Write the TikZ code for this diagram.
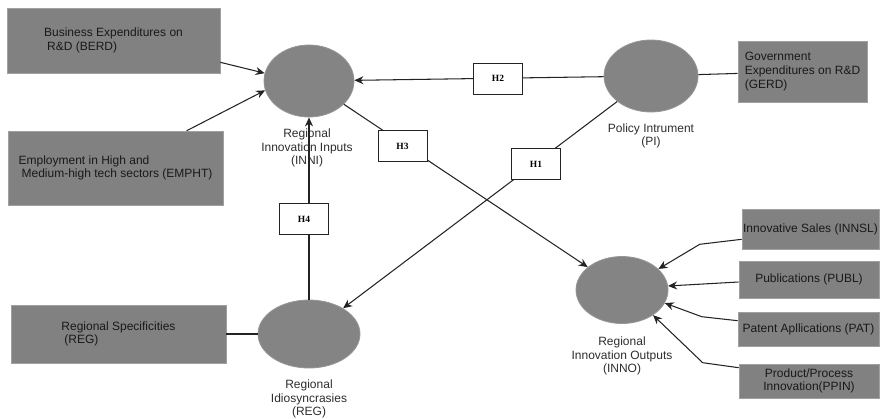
\documentclass[tikz,border=0pt]{standalone}
\usepackage{fontspec}
\setmainfont{Liberation Sans}
\newfontfamily\hfont{Liberation Serif}
\usetikzlibrary{shapes.geometric,arrows.meta,calc}
\definecolor{boxgray}{RGB}{129,129,129}
\definecolor{boxedge}{RGB}{160,160,160}
\definecolor{ellgray}{RGB}{132,132,132}
\definecolor{linecol}{RGB}{35,35,35}
\definecolor{txtcol}{RGB}{25,25,25}
\definecolor{labcol}{RGB}{45,45,45}
\tikzset{
  ind/.style={rectangle, fill=boxgray, draw=boxedge, line width=0.6pt, inner sep=0pt, align=left,
    text=txtcol, font=\fontsize{12}{13.6}\selectfont},
  indc/.style={ind, align=center},
  lat/.style={ellipse, fill=ellgray, draw=ellgray!85, line width=0.8pt, inner sep=0pt},
  lab/.style={align=center, text=labcol, font=\fontsize{12}{13.6}\selectfont, inner sep=0pt},
  hyp/.style={rectangle, draw=linecol, fill=white, line width=0.8pt, inner sep=0pt,
    minimum width=49pt, minimum height=31pt, font=\hfont\bfseries\fontsize{9.5}{11}\selectfont},
  conn/.style={draw=linecol, line width=1.05pt},
  arr/.style={conn, -{Stealth[length=9pt,width=8pt]}}
}
\begin{document}
\begin{tikzpicture}[x=1pt,y=-1pt]
\useasboundingbox (0,0) rectangle (880,418);

% indicator boxes
\node[ind, minimum width=213pt, minimum height=65pt] (berd) at (113.5,40.5)
  {Business Expenditures on\\\hspace*{3pt}R\&D (BERD)};
\node[ind, minimum width=215pt, minimum height=74pt] (empht) at (115.5,168)
  {Employment in High and\\\hspace*{3pt}Medium-high tech sectors (EMPHT)};
\node[ind, minimum width=215pt, minimum height=58pt] (regbox) at (118.5,334)
  {Regional Specificities\\\hspace*{3pt}(REG)};
\node[ind, minimum width=129pt, minimum height=61pt] (gerd) at (802.5,71.5)
  {Government\\Expenditures on R\&D\\(GERD)};
\node[indc, minimum width=137pt, minimum height=40pt] (innsl) at (810.5,229)
  {Innovative Sales (INNSL)};
\node[indc, minimum width=140pt, minimum height=37pt] (publ) at (809,279.5)
  {Publications (PUBL)};
\node[indc, minimum width=141pt, minimum height=34pt] (pat) at (808.5,329)
  {Patent Apllications (PAT)};
\node[indc, minimum width=140pt, minimum height=34pt] (ppin) at (809,381)
  {Product/Process\\Innovation(PPIN)};

% latent constructs
\node[lat, minimum width=90pt, minimum height=72pt] (inni) at (309,81) {};
\node[lat, minimum width=94pt, minimum height=72pt] (pi) at (651,76) {};
\node[lat, minimum width=102pt, minimum height=68pt] (reg) at (309,334) {};
\node[lat, minimum width=92pt, minimum height=67pt] (inno) at (622,290) {};

% construct labels
\node[lab] (inniL) at (307,148) {Regional\\Innovation Inputs\\(INNI)};
\node[lab] (piL) at (651,136) {Policy Intrument\\(PI)};
\node[lab] (regL) at (309,399) {Regional\\Idiosyncrasies\\(REG)};
\node[lab] (innoL) at (622,356) {Regional\\Innovation Outputs\\(INNO)};

% measurement connectors
\draw[arr] ($(berd.south east)+(0,-11)$) -- (inni.170);
\draw[arr] ($(empht.north west)+(179,0)$) -- (inni.192);
\draw[conn] (pi) -- (gerd);
\draw[conn] (regbox.east) -- (reg);
\draw[arr] ($(innsl.south west)+(0,-10)$) -- ++(-42,5) -- (inno.30);
\draw[arr] ($(publ.west)+(0,2.5)$) -- (inno.5);
\draw[arr] ($(pat.north west)+(0,9)$) -- ++(-36,-4) -- (inno.-17);
\draw[arr] ($(ppin.north west)+(0,4)$) -- ++(-36,-5) -- (inno.-39);

% structural connectors
\draw[arr] (pi) -- (inni);
\draw[arr] (pi) -- (reg);
\draw[arr] (inni) -- (inno);
\draw[arr] (reg) -- (inni);

% hypothesis boxes
\node[hyp] (h2) at (498,78.5) {H2};
\node[hyp] (h3) at (402.5,146) {H3};
\node[hyp] (h1) at (536,164) {H1};
\node[hyp] (h4) at (304,219) {H4};
\end{tikzpicture}
\end{document}
